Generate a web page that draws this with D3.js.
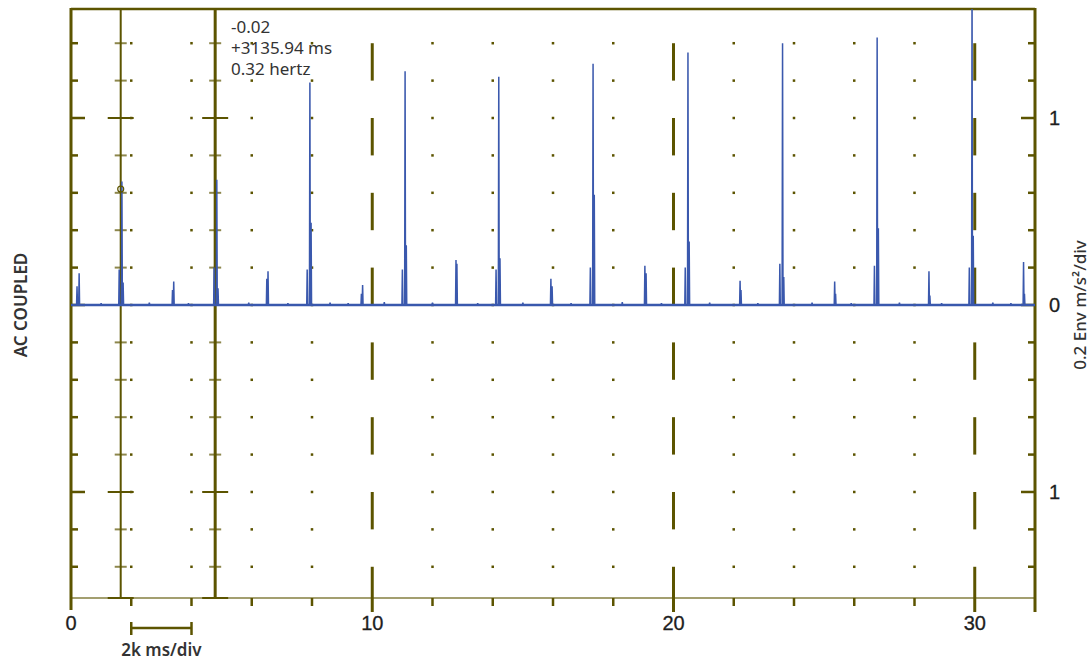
<!DOCTYPE html>
<html>
<head>
<meta charset="utf-8">
<script src="https://cdn.jsdelivr.net/npm/d3@7"></script>
<style>
  body { margin: 0; background: #fff; }
  svg { display: block; }
</style>
</head>
<body>
<script>
// cursor readout (delta cursor)
const readout = ["-0.02", "+3135.94 ms", "0.32 hertz"];
const xTickLabels = [0, 10, 20, 30];
const yTickValues = [1, 0, -1];
const yTickText = ["1", "0", "1"];
const cursorTimes = [1.65, 4.786];
const cursorMarkValue = 0.62;

// main impacts (k ms) and their three peaks (Env m/s2)
const eventTimes = [1.69, 4.84, 7.93, 11.09, 14.20, 17.33, 20.48, 23.62, 26.76, 29.91];
const tallPeaks = [0.66, 0.67, 1.19, 1.25, 1.22, 1.29, 1.35, 1.40, 1.43, 1.75];
const secondPeaks = [0.12, 0.09, 0.44, 0.32, 0.25, 0.59, 0.34, 0.15, 0.41, 0.37];
const prePeaks = [0.19, 0.20, 0.19, 0.19, 0.19, 0.20, 0.20, 0.22, 0.21, 0.20];

// smaller impacts half way between, [time, value]
const minorSpikes = [
    [0.20, 0.10], [0.27, 0.17],
    [3.37, 0.08], [3.41, 0.125],
    [6.50, 0.14], [6.54, 0.18],
    [9.64, 0.06], [9.68, 0.107],
    [12.78, 0.24], [12.81, 0.22],
    [15.93, 0.14], [15.97, 0.10],
    [19.05, 0.21], [19.09, 0.17],
    [22.21, 0.13], [22.24, 0.08],
    [25.35, 0.125], [25.38, 0.06],
    [28.48, 0.18], [28.51, 0.05],
    [31.62, 0.23], [31.65, 0.06]
];

// noise blips on the baseline
const baselineBumps = [
    [1.0, 0.01], [2.6, 0.012], [3.9, 0.01], [5.9, 0.012], [7.2, 0.01], [8.6, 0.012],
    [9.2, 0.01], [10.4, 0.015], [12.0, 0.012], [13.5, 0.01], [15.0, 0.012], [16.6, 0.01],
    [18.3, 0.015], [19.6, 0.01], [21.2, 0.012], [22.8, 0.01], [24.6, 0.012], [25.9, 0.01],
    [27.5, 0.012], [28.9, 0.01], [30.6, 0.012], [31.2, 0.01]
];

const width = 1091, height = 660;
const olive = "#5c5400";
const traceColor = "#3a58ad";
const labelFont = "'Liberation Sans Narrow', 'Liberation Sans', sans-serif";
const textFont = "'Noto Sans', sans-serif";

const x = d3.scaleLinear().domain([0, 32]).range([71, 1035]);
const y = d3.scaleLinear().domain([-1.567, 1.583]).range([598, 9]);

const svg = d3.select("body").append("svg")
    .attr("width", width)
    .attr("height", height);

svg.append("defs").append("clipPath")
    .attr("id", "plot-clip")
    .append("rect")
    .attr("x", x(0))
    .attr("y", y(1.583))
    .attr("width", x(32) - x(0))
    .attr("height", y(-1.567) - y(1.583));

const rows = d3.range(-7, 8).map(k => ({ v: +(k * 0.2).toFixed(1), major: k % 5 === 0 }));
const dotCols = d3.range(2, 31, 2).filter(v => v % 10 !== 0);
const minorCols = d3.range(2, 32, 2).filter(v => v % 10 !== 0);

// grid dots
const dots = [];
dotCols.forEach(c => rows.forEach(r => dots.push([c, r.v])));
svg.append("g").selectAll("rect")
    .data(dots)
    .join("rect")
    .attr("x", d => x(d[0]) - 1.25)
    .attr("y", d => y(d[1]) - 1.25)
    .attr("width", 2.5)
    .attr("height", 2.5)
    .attr("fill", olive);

// dashed major verticals: on for [0.4k, 0.4k+0.2]
const dashes = [];
[10, 20, 30].forEach(c => {
    d3.range(-4, 4).forEach(k => {
        const lo = Math.max(0.4 * k, -1.567), hi = Math.min(0.4 * k + 0.2, 1.583);
        if (hi > lo) dashes.push([c, lo, hi]);
    });
});
svg.append("g").selectAll("line")
    .data(dashes)
    .join("line")
    .attr("x1", d => x(d[0]))
    .attr("x2", d => x(d[0]))
    .attr("y1", d => y(d[1]))
    .attr("y2", d => y(d[2]))
    .attr("stroke", olive)
    .attr("stroke-width", 3);

// bottom axis line + ticks
svg.append("line")
    .attr("x1", x(0)).attr("x2", x(32))
    .attr("y1", y(-1.567)).attr("y2", y(-1.567))
    .attr("stroke", olive)
    .attr("stroke-opacity", 0.75)
    .attr("stroke-width", 1.6);

svg.append("g").selectAll("line")
    .data(minorCols)
    .join("line")
    .attr("x1", d => x(d)).attr("x2", d => x(d))
    .attr("y1", y(-1.567)).attr("y2", y(-1.567) + 8)
    .attr("stroke", olive)
    .attr("stroke-width", 2.5);

svg.append("g").selectAll("line")
    .data([10, 20, 30])
    .join("line")
    .attr("x1", d => x(d)).attr("x2", d => x(d))
    .attr("y1", y(-1.567)).attr("y2", y(-1.567) + 14)
    .attr("stroke", olive)
    .attr("stroke-width", 3);

// frame: top, left, right
svg.append("line")
    .attr("x1", x(0)).attr("x2", x(32))
    .attr("y1", y(1.583)).attr("y2", y(1.583))
    .attr("stroke", olive)
    .attr("stroke-width", 2.5);
svg.append("line")
    .attr("x1", x(0)).attr("x2", x(0))
    .attr("y1", y(1.583) - 1).attr("y2", y(-1.567) + 12)
    .attr("stroke", olive)
    .attr("stroke-width", 3);
svg.append("line")
    .attr("x1", x(32)).attr("x2", x(32))
    .attr("y1", y(1.583) - 1).attr("y2", y(-1.567) + 14)
    .attr("stroke", olive)
    .attr("stroke-width", 3);

// left / right border ticks
svg.append("g").selectAll("line")
    .data(rows)
    .join("line")
    .attr("x1", x(0)).attr("x2", d => x(0) + (d.major ? 14 : 7))
    .attr("y1", d => y(d.v)).attr("y2", d => y(d.v))
    .attr("stroke", olive)
    .attr("stroke-width", 2.5);
svg.append("g").selectAll("line")
    .data(rows)
    .join("line")
    .attr("x1", x(32)).attr("x2", d => x(32) - (d.major ? 14 : 7))
    .attr("y1", d => y(d.v)).attr("y2", d => y(d.v))
    .attr("stroke", olive)
    .attr("stroke-width", 2.5);

// cursors
const cursorTicks = [];
cursorTimes.forEach(c => {
    rows.forEach(r => cursorTicks.push({ c: c, v: r.v, half: r.major ? 13 : 6 }));
    cursorTicks.push({ c: c, v: 1.583, half: 13 });
    cursorTicks.push({ c: c, v: -1.567, half: 13 });
});
svg.append("g").selectAll("line")
    .data(cursorTicks)
    .join("line")
    .attr("x1", d => x(d.c) - d.half)
    .attr("x2", d => x(d.c) + d.half)
    .attr("y1", d => y(d.v)).attr("y2", d => y(d.v))
    .attr("stroke", olive)
    .attr("stroke-opacity", d => d.half > 6 ? 1 : 0.7)
    .attr("stroke-width", 2);

svg.append("g").selectAll("line")
    .data(cursorTimes)
    .join("line")
    .attr("x1", d => x(d)).attr("x2", d => x(d))
    .attr("y1", y(1.583)).attr("y2", y(-1.567))
    .attr("stroke", olive)
    .attr("stroke-width", (d, i) => i === 0 ? 2 : 3);

// envelope trace
const peaks = [];
eventTimes.forEach((t, i) => {
    peaks.push([t - 0.09, prePeaks[i]], [t, tallPeaks[i]], [t + 0.04, secondPeaks[i]]);
});
minorSpikes.forEach(p => peaks.push(p));
baselineBumps.forEach(p => peaks.push(p));
peaks.sort((a, b) => a[0] - b[0]);

const tracePoints = [[0, 0]];
peaks.forEach(([t, v]) => {
    tracePoints.push([t - 0.015, 0], [t, v], [t + 0.015, 0]);
});
tracePoints.push([32, 0]);

const traceGroup = svg.append("g")
    .attr("clip-path", "url(#plot-clip)");

// the baseline band is heavier than the spikes
traceGroup.append("line")
    .attr("x1", x(0)).attr("x2", x(32))
    .attr("y1", y(0)).attr("y2", y(0))
    .attr("stroke", traceColor)
    .attr("stroke-width", 2.4);

traceGroup.append("path")
    .attr("d", d3.line().x(d => x(d[0])).y(d => y(d[1])).curve(d3.curveLinear)(tracePoints))
    .attr("fill", "none")
    .attr("stroke", traceColor)
    .attr("stroke-width", 1.5)
    .attr("stroke-linejoin", "miter");

// cursor marker
svg.append("circle")
    .attr("cx", x(cursorTimes[0]))
    .attr("cy", y(cursorMarkValue))
    .attr("r", 3)
    .attr("fill", "none")
    .attr("stroke", olive)
    .attr("stroke-width", 1.2);

// readout text
svg.append("g").selectAll("text")
    .data(readout)
    .join("text")
    .attr("x", 231)
    .attr("y", (d, i) => 33 + i * 21)
    .attr("font-family", textFont)
    .attr("font-size", 17)
    .attr("fill", "#333")
    .text(d => d);

// x labels
svg.append("g").selectAll("text")
    .data(xTickLabels)
    .join("text")
    .attr("x", d => x(d))
    .attr("y", 630)
    .attr("text-anchor", "middle")
    .attr("font-family", labelFont)
    .attr("font-size", 20)
    .attr("fill", "#1e1e1e")
    .attr("stroke", "#1e1e1e")
    .attr("stroke-width", 0.3)
    .text(d => d);

// y labels (right side)
svg.append("g").selectAll("text")
    .data(yTickValues)
    .join("text")
    .attr("x", 1049)
    .attr("y", d => y(d) + 7)
    .attr("font-family", labelFont)
    .attr("font-size", 20)
    .attr("fill", "#1e1e1e")
    .attr("stroke", "#1e1e1e")
    .attr("stroke-width", 0.3)
    .text((d, i) => yTickText[i]);

// scale bar 2k ms/div
const bar = svg.append("g")
    .attr("stroke", olive)
    .attr("stroke-width", 2.5);
bar.append("line")
    .attr("x1", x(2)).attr("x2", x(4))
    .attr("y1", 628).attr("y2", 628);
bar.selectAll("line.cap")
    .data([2, 4])
    .join("line")
    .attr("class", "cap")
    .attr("x1", d => x(d)).attr("x2", d => x(d))
    .attr("y1", 622).attr("y2", 635);

svg.append("text")
    .attr("x", x(3))
    .attr("y", 656)
    .attr("text-anchor", "middle")
    .attr("font-family", textFont)
    .attr("font-size", 17)
    .attr("font-weight", 600)
    .attr("fill", "#333")
    .text("2k ms/div");

// side titles
svg.append("text")
    .attr("transform", `translate(27,${y(0)}) rotate(-90)`)
    .attr("text-anchor", "middle")
    .attr("font-family", textFont)
    .attr("font-size", 17)
    .attr("font-weight", 600)
    .attr("fill", "#333")
    .text("AC COUPLED");

svg.append("text")
    .attr("transform", `translate(1086,${y(0)}) rotate(-90)`)
    .attr("text-anchor", "middle")
    .attr("font-family", textFont)
    .attr("font-size", 17)
    .attr("font-weight", 500)
    .attr("fill", "#333")
    .text("0.2 Env m/s²/div");
</script>
</body>
</html>
